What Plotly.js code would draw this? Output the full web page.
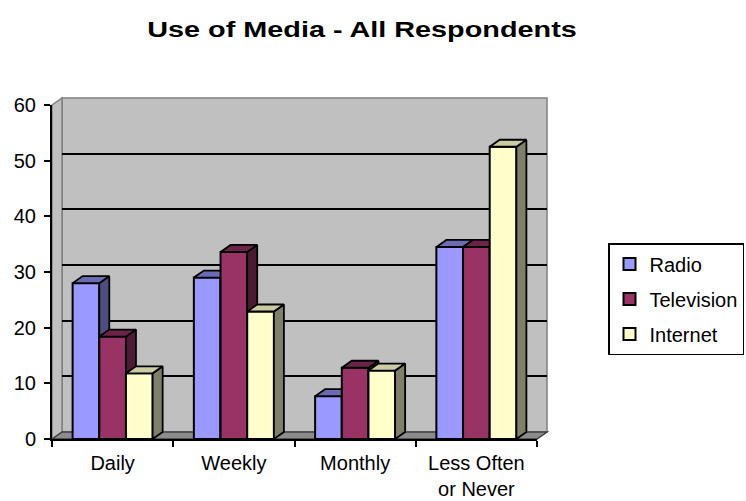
<!DOCTYPE html>
<html>
<head>
<meta charset="utf-8">
<script src="https://cdn.plot.ly/plotly-3.0.1.min.js"></script>
<style>html,body{margin:0;padding:0;background:#fff;}#chart{width:746px;height:501px;}</style>
</head>
<body>
<div id="chart"></div>
<script>
// ---- data ----
const categories = ['Daily', 'Weekly', 'Monthly', 'Less Often<br>or Never'];
const seriesNames = ['Radio', 'Television', 'Internet'];
const radio = [28, 29, 7.7, 34.5];
const television = [18.4, 33.6, 12.8, 34.5];
const internet = [11.8, 22.9, 12.3, 52.5];
const yTicks = [0, 10, 20, 30, 40, 50, 60];
const wallGrid = [10, 20, 30, 40, 50];

// ---- styles ----
const frontColors = ['#9999FF', '#993366', '#FFFFCC'];
const topColors = ['#6B6BB3', '#6B2447', '#CCCCA3'];
const sideColors = ['#4D4D80', '#4D1A33', '#80806A'];

// ---- geometry (pixels) ----
const W = 746, H = 501;
const fx0 = 52, fx1 = 537, fyTop = 105, fyBot = 439; // front plane
const DX = 10, DY = 7;                                 // depth offset
const px = x => x / W, py = y => 1 - y / H;
const xRange = [-0.5, 3.5], yRange = [0, 60];
const unitX = (fx1 - fx0) / (xRange[1] - xRange[0]);
const unitY = (fyBot - fyTop) / (yRange[1] - yRange[0]);
const ddx = DX / unitX, ddy = DY / unitY;
const barW = 0.22;
const titleWidthPx = 430;

const allSeries = [radio, television, internet];
const xIdx = categories.map((c, i) => i);
const traces = [];
traces.push({type: 'scatter', x: [], y: [], xaxis: 'x', yaxis: 'y', showlegend: false, hoverinfo: 'skip'});

allSeries.forEach((vals, k) => {
  const ax = ['x2', 'x3', 'x4'][k], ay = ['y2', 'y3', 'y4'][k];
  const off = -1.5 * barW + k * barW;
  traces.push({
    type: 'bar', name: seriesNames[k], x: xIdx, y: vals,
    xaxis: ax, yaxis: ay, width: barW, offset: off, legendgroup: 'g' + k,
    marker: {color: frontColors[k], line: {color: '#000', width: 2}},
    showlegend: true
  });
  const tx = [], ty = [], sx = [], sy = [];
  vals.forEach((v, i) => {
    const L = i + off, R = i + off + barW;
    tx.push(L, R, R + ddx, L + ddx, L, null);
    ty.push(v, v, v + ddy, v + ddy, v, null);
    sx.push(R, R, R + ddx, R + ddx, R, null);
    sy.push(0, v, v + ddy, ddy, 0, null);
  });
  traces.push({type: 'scatter', mode: 'lines', x: sx, y: sy, xaxis: ax, yaxis: ay,
    fill: 'toself', fillcolor: sideColors[k], line: {color: '#000', width: 1.8},
    showlegend: false, hoverinfo: 'skip', cliponaxis: false});
  traces.push({type: 'scatter', mode: 'lines', x: tx, y: ty, xaxis: ax, yaxis: ay,
    fill: 'toself', fillcolor: topColors[k], line: {color: '#000', width: 1.8},
    showlegend: false, hoverinfo: 'skip', cliponaxis: false});
});

const font = 'Liberation Sans, Arial, sans-serif';
const shapes = [
  {type: 'path', xref: 'paper', yref: 'paper', layer: 'below',
   path: `M${px(fx0+DX)},${py(fyTop-DY)} L${px(fx1+DX)},${py(fyTop-DY)} L${px(fx1+DX)},${py(fyBot-DY)} L${px(fx0+DX)},${py(fyBot-DY)} Z`,
   fillcolor: '#C0C0C0', line: {color: '#808080', width: 1.5}},
  {type: 'path', xref: 'paper', yref: 'paper', layer: 'below',
   path: `M${px(fx0)},${py(fyTop)} L${px(fx0+DX)},${py(fyTop-DY)} L${px(fx0+DX)},${py(fyBot-DY)} L${px(fx0)},${py(fyBot)} Z`,
   fillcolor: '#C0C0C0', line: {color: '#808080', width: 1.5}},
  {type: 'path', xref: 'paper', yref: 'paper', layer: 'below',
   path: `M${px(fx0)},${py(fyBot)} L${px(fx0+DX)},${py(fyBot-DY)} L${px(fx1+DX)},${py(fyBot-DY)} L${px(fx1)},${py(fyBot)} Z`,
   fillcolor: '#8C8C8C', line: {color: '#404040', width: 1.5}}
];

const hidden = {visible: false, showgrid: false, zeroline: false};
const layout = {
  width: W, height: H,
  margin: {l: 0, r: 0, t: 0, b: 0, autoexpand: false},
  paper_bgcolor: '#fff', plot_bgcolor: 'rgba(0,0,0,0)',
  font: {family: font, color: '#000', size: 20},
  title: {text: 'Use of Media - All Respondents', x: 362 / W, xanchor: 'center', xref: 'paper',
          y: py(29), yanchor: 'middle', yref: 'container',
          font: {family: font, size: 22, weight: 'bold', color: '#000'}},
  showlegend: true,
  legend: {x: px(608), y: py(243), xanchor: 'left', yanchor: 'top',
           bgcolor: '#fff', bordercolor: '#000', borderwidth: 1.5,
           font: {family: font, size: 20, color: '#000'}, tracegroupgap: 6},
  xaxis: {domain: [px(fx0 + DX), px(fx1 + DX)], range: [0, 1], anchor: 'y',
          showgrid: false, zeroline: false, showline: false, showticklabels: false, ticks: ''},
  yaxis: {domain: [py(fyBot - DY), py(fyTop - DY)], range: yRange, anchor: 'x',
          tickmode: 'array', tickvals: wallGrid, showgrid: true, gridcolor: '#000', gridwidth: 2,
          zeroline: false, showline: false, showticklabels: false, ticks: ''},
  xaxis2: {domain: [px(fx0), px(fx1)], range: xRange, anchor: 'y2',
           tickmode: 'array', tickvals: [-0.5, 0.5, 1.5, 2.5, 3.5], ticks: 'outside', ticklen: 6,
           tickwidth: 2, tickcolor: '#000', showticklabels: false,
           showline: true, linecolor: '#000', linewidth: 2, showgrid: false, zeroline: false},
  yaxis2: {domain: [py(fyBot), py(fyTop)], range: yRange, anchor: 'x2',
           tickmode: 'array', tickvals: yTicks, ticks: 'outside', ticklen: 6, tickwidth: 2,
           tickcolor: '#000', showline: true, linecolor: '#000', linewidth: 2,
           showgrid: false, zeroline: false, ticklabelstandoff: 4,
           tickfont: {family: font, size: 20, color: '#000'}},
  xaxis3: {overlaying: 'x2', anchor: 'y3', range: xRange, tickmode: 'array', tickvals: xIdx,
           ticktext: categories, ticks: '', showline: false, showgrid: false, zeroline: false,
           ticklabelstandoff: 10, tickfont: {family: font, size: 20, color: '#000'}},
  yaxis3: Object.assign({overlaying: 'y2', anchor: 'x3', range: yRange}, hidden),
  xaxis4: Object.assign({overlaying: 'x2', anchor: 'y4', range: xRange}, hidden),
  yaxis4: Object.assign({overlaying: 'y2', anchor: 'x4', range: yRange}, hidden),
  shapes: shapes,
  bargap: 0, barmode: 'overlay'
};

Plotly.newPlot('chart', traces, layout, {staticPlot: true, displayModeBar: false}).then(gd => {
  // widen the title horizontally to match the reference lettering
  const t = gd.querySelector('.gtitle');
  if (t && t.getBBox) {
    const bb = t.getBBox();
    if (bb.width > 0) {
      const s = titleWidthPx / bb.width;
      const cx = bb.x + bb.width / 2;
      const g = document.createElementNS('http://www.w3.org/2000/svg', 'g');
      t.parentNode.insertBefore(g, t);
      g.appendChild(t);
      g.setAttribute('transform', `translate(${cx},0) scale(${s},1) translate(${-cx},0)`);
    }
  }
});
</script>
</body>
</html>
